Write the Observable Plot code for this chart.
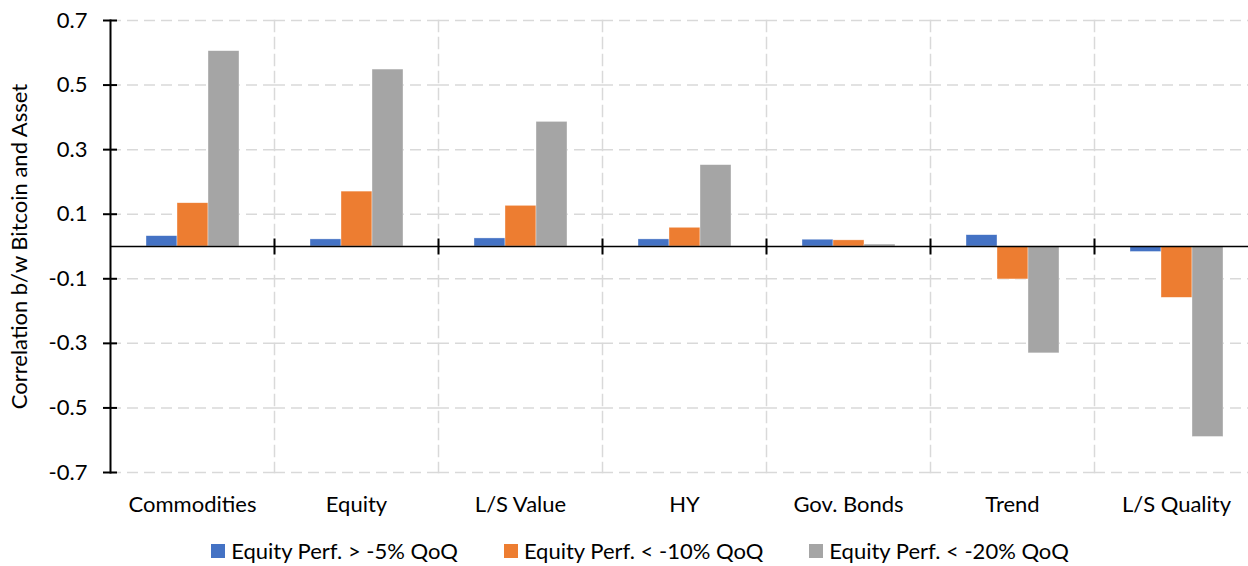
<!DOCTYPE html>
<html>
<head>
<meta charset="utf-8">
<script src="https://cdn.jsdelivr.net/npm/d3@7"></script>
<script src="https://cdn.jsdelivr.net/npm/@observablehq/plot@0.6"></script>
<style>
  html, body { margin: 0; padding: 0; background: #fff; overflow: hidden; }
  #wrap { width: 1248px; height: 566px; overflow: hidden; position: relative; font-family: Lato, sans-serif; }
  #legend { display: flex; justify-content: center; gap: 46px; width: 1280px; padding-top: 13px; font-size: 22px; color: #000; line-height: 26px; white-space: nowrap; }
  #legend .item { display: flex; align-items: center; }
  #legend .sw { width: 14px; height: 14px; margin-right: 6px; display: inline-block; }
</style>
</head>
<body>
<div id="wrap"><div id="chart"></div><div id="legend"></div></div>
<script>
const categories = ["Commodities", "Equity", "L/S Value", "HY", "Gov. Bonds", "Trend", "L/S Quality"];
const series = ["Equity Perf. > -5% QoQ", "Equity Perf. < -10% QoQ", "Equity Perf. < -20% QoQ"];
const perf5  = [0.032, 0.022, 0.025, 0.022, 0.021, 0.035, -0.017];
const perf10 = [0.134, 0.170, 0.126, 0.058, 0.019, -0.102, -0.159];
const perf20 = [0.605, 0.548, 0.386, 0.252, 0.006, -0.331, -0.590];
const yTicks = [-0.7, -0.5, -0.3, -0.1, 0.1, 0.3, 0.5, 0.7];
const colors = ["#4472c4", "#ed7d31", "#a5a5a5"];

const seriesValues = [perf5, perf10, perf20];
const data = categories.flatMap((c, i) =>
  series.map((s, j) => ({category: c, series: s, value: seriesValues[j][i]}))
);

const gridStyle = {stroke: "#d9d9d9", strokeOpacity: 1, strokeWidth: 1.5, strokeDasharray: "11,6"};

const chart = Plot.plot({
  width: 1248,
  height: 525,
  marginLeft: 110,
  marginRight: -10,
  marginTop: 20,
  marginBottom: 53,
  style: {fontFamily: "Lato, sans-serif", fontSize: "22px", color: "#000", background: "white", overflow: "visible"},
  fx: {domain: categories, padding: 0, label: null},
  x: {domain: series, paddingInner: 0, paddingOuter: 1.117, axis: null},
  y: {domain: [-0.7, 0.7], label: null},
  color: {domain: series, range: colors},
  marks: [
    Plot.gridY(yTicks, gridStyle),
    Plot.frame({anchor: "right", ...gridStyle}),
    Plot.barY(data, {fx: "category", x: "series", y: "value", fill: "series", stroke: "#fff", strokeWidth: 0.6, strokeOpacity: 0.6}),
    Plot.ruleY([0], {stroke: "#000", strokeWidth: 1.5}),
    Plot.frame({anchor: "right", stroke: "#000", strokeWidth: 2, insetTop: 219, insetBottom: 219}),
    Plot.frame({anchor: "left", facetAnchor: "left", stroke: "#000", strokeWidth: 2}),
    Plot.axisY(yTicks, {
      tickSize: 14, dx: 7, tickPadding: 16, strokeWidth: 2, stroke: "#000",
      tickFormat: d => d.toFixed(1),
      label: "Correlation b/w Bitcoin and Asset", labelAnchor: "center", labelOffset: 99, labelArrow: "none"
    }),
    Plot.axisFx({anchor: "bottom", tickSize: 0, tickPadding: 24, label: null})
  ]
});
document.getElementById("chart").appendChild(chart);

const legend = document.getElementById("legend");
series.forEach((s, i) => {
  const item = document.createElement("div");
  item.className = "item";
  const sw = document.createElement("span");
  sw.className = "sw";
  sw.style.background = colors[i];
  const t = document.createElement("span");
  t.textContent = s;
  item.appendChild(sw);
  item.appendChild(t);
  legend.appendChild(item);
});
</script>
</body>
</html>
